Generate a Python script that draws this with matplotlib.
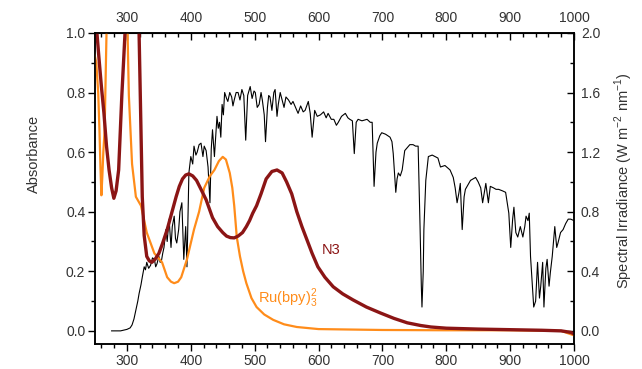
from matplotlib import pyplot as plt
from matplotlib.ticker import MultipleLocator

plt.rcParams['font.family'] = ['Liberation Sans', 'DejaVu Sans']

# solar spectral irradiance (right axis)
sun_nm = [276, 290, 300, 305, 308, 311, 314, 317, 319, 322, 324, 327, 329, 331, 334, 337, 340,
          343, 345, 347, 350, 352, 354, 356, 358, 361, 363, 366, 369, 371, 374, 376, 378, 381,
          383, 386, 389, 392, 394, 397, 400, 403, 405, 408, 410, 413, 416, 419, 421, 424, 427,
          430, 432, 434, 437, 439, 441, 443, 445, 447, 449, 451, 453, 456, 458, 461, 464, 466,
          468, 471, 474, 477, 480, 483, 486, 489, 493, 496, 499, 501, 504, 507, 510, 512, 515,
          517, 520, 522, 524, 527, 530, 532, 535, 537, 540, 543, 546, 549, 553, 557, 560, 564,
          568, 572, 576, 579, 584, 587, 590, 594, 598, 603, 608, 612, 615, 620, 624, 628, 631,
          636, 642, 646, 649, 653, 656, 659, 662, 668, 676, 681, 684, 687, 690, 692, 696, 699,
          705, 712, 715, 717, 721, 723, 725, 728, 731, 735, 739, 743, 748, 752, 756, 759, 761,
          762, 764, 765, 768, 772, 778, 787, 791, 798, 806, 811, 814, 817, 820, 822, 825, 828,
          830, 834, 838, 842, 846, 850, 854, 857, 862, 866, 869, 874, 878, 882, 888, 893, 898,
          901, 904, 906, 909, 912, 916, 920, 923, 925, 928, 930, 932, 935, 937, 940, 943, 946,
          948, 951, 953, 956, 958, 961, 963, 966, 970, 973, 975, 979, 983, 987, 991, 995, 1000]
sun_irr = [0.0, 0.0, 0.01, 0.02, 0.04, 0.08, 0.14, 0.2, 0.25, 0.31, 0.36, 0.43, 0.41, 0.46, 0.42, 0.44, 0.49,
           0.48, 0.43, 0.45, 0.5, 0.46, 0.47, 0.52, 0.56, 0.68, 0.6, 0.75, 0.56, 0.7, 0.77, 0.62, 0.59, 0.68,
           0.8, 0.86, 0.48, 0.7, 0.43, 1.06, 1.17, 1.12, 1.24, 1.18, 1.2, 1.25, 1.26, 1.17, 1.24, 1.21, 1.1,
           0.86, 1.22, 1.35, 1.17, 1.3, 1.44, 1.36, 1.4, 1.3, 1.52, 1.45, 1.6, 1.56, 1.54, 1.6, 1.57, 1.51,
           1.55, 1.6, 1.6, 1.55, 1.62, 1.58, 1.28, 1.58, 1.64, 1.56, 1.61, 1.6, 1.5, 1.52, 1.6, 1.55, 1.45,
           1.27, 1.5, 1.58, 1.57, 1.48, 1.6, 1.62, 1.44, 1.52, 1.6, 1.55, 1.5, 1.57, 1.55, 1.52, 1.54, 1.5,
           1.46, 1.51, 1.47, 1.48, 1.54, 1.46, 1.3, 1.48, 1.44, 1.45, 1.47, 1.43, 1.46, 1.42, 1.42, 1.38, 1.4,
           1.44, 1.46, 1.43, 1.42, 1.41, 1.19, 1.4, 1.42, 1.41, 1.42, 1.4, 1.4, 0.97, 1.2, 1.26, 1.31, 1.33,
           1.32, 1.3, 1.27, 1.19, 0.93, 1.02, 1.06, 1.04, 1.08, 1.21, 1.23, 1.25, 1.25, 1.24, 1.24, 0.7, 0.3,
           0.16, 0.4, 0.68, 1.01, 1.17, 1.18, 1.16, 1.1, 1.11, 1.08, 1.03, 0.96, 0.86, 0.93, 0.99, 0.68, 0.9,
           0.95, 0.98, 1.01, 1.02, 1.03, 1.0, 0.96, 0.86, 0.99, 0.86, 0.97, 0.96, 0.95, 0.95, 0.94, 0.93, 0.79,
           0.56, 0.75, 0.83, 0.66, 0.63, 0.7, 0.63, 0.7, 0.77, 0.74, 0.79, 0.5, 0.3, 0.16, 0.2, 0.46, 0.22,
           0.3, 0.46, 0.16, 0.42, 0.48, 0.3, 0.39, 0.5, 0.7, 0.56, 0.59, 0.66, 0.68, 0.72, 0.75, 0.75, 0.74]

# N3 dye absorbance
n3_nm = [250, 253, 256, 260, 264, 268, 272, 276, 279.5, 283, 287, 292, 297, 305, 315, 319, 322, 324,
         327, 331, 335, 339, 344, 350, 356, 363, 370, 377, 382, 387, 392, 397, 403, 409, 416, 424,
         434, 442, 450, 456, 462, 468, 474, 481, 487, 492, 497, 503, 510, 518, 527, 535, 543, 550,
         558, 566, 574, 582, 590, 599, 610, 623, 638, 654, 675, 697, 718, 739, 760, 776, 800, 850,
         900, 950, 980, 995, 1000]
n3_abs = [1.2, 1.0, 0.92, 0.82, 0.73, 0.62, 0.54, 0.48, 0.445, 0.47, 0.54, 0.79, 1.0, 1.3, 1.3, 1.0, 0.67, 0.45,
          0.32, 0.25, 0.235, 0.23, 0.24, 0.26, 0.295, 0.34, 0.395, 0.45, 0.485, 0.51, 0.523, 0.527, 0.52, 0.505, 0.475, 0.44,
          0.38, 0.35, 0.33, 0.318, 0.313, 0.312, 0.318, 0.33, 0.35, 0.37, 0.395, 0.42, 0.46, 0.51, 0.535, 0.54, 0.53, 0.5,
          0.46, 0.4, 0.35, 0.305, 0.26, 0.215, 0.18, 0.148, 0.124, 0.104, 0.08, 0.06, 0.042, 0.027, 0.018, 0.013, 0.009, 0.006,
          0.004, 0.002, 0.0, -0.005, -0.01]

# Ru(bpy)3 absorbance
ru_nm = [248, 252, 255, 257, 258.5, 260, 261.5, 263, 265, 268, 270, 300, 303, 308, 314, 322, 331,
         343, 355, 363, 369, 374, 380, 385, 394, 405, 413, 421, 430, 437, 444, 450, 455, 461,
         465, 468, 472, 477, 482, 487, 495, 503, 515, 529, 546, 566, 600, 700, 800, 900, 980, 1000]
ru_abs = [0.94, 0.9, 0.8, 0.67, 0.55, 0.455, 0.52, 0.6, 0.67, 1.0, 1.1, 1.1, 0.79, 0.56, 0.45, 0.42, 0.33,
          0.26, 0.23, 0.18, 0.165, 0.16, 0.165, 0.18, 0.24, 0.34, 0.4, 0.48, 0.52, 0.54, 0.57, 0.584, 0.575, 0.53,
          0.48, 0.42, 0.315, 0.25, 0.2, 0.16, 0.11, 0.08, 0.055, 0.037, 0.022, 0.013, 0.006, 0.003, 0.002, 0.002, 0.0, -0.015]

x_ticks = [300, 400, 500, 600, 700, 800, 900, 1000]

N3_COLOR = '#8b1515'
RU_COLOR = '#ff8c1a'
TXT = '#333333'

fig = plt.figure(figsize=(6.42, 3.69), dpi=100)
ax = fig.add_axes([0.148, 0.0678, 0.746, 0.843])
ax2 = ax.twinx()

ax2.plot(sun_nm, sun_irr, c='black', lw=0.8)
ax.plot(ru_nm, ru_abs, c=RU_COLOR, lw=1.6)
ax.plot(n3_nm, n3_abs, c=N3_COLOR, lw=2.4)

ax.set_zorder(ax2.get_zorder() + 1)
ax.patch.set_visible(False)

ax.set_xlim(250, 1000)
ax.set_ylim(-0.044, 1.0)
ax2.set_ylim(-0.088, 2.0)

ax.set_xticks(x_ticks)
ax.xaxis.set_minor_locator(MultipleLocator(20))
ax.yaxis.set_major_locator(MultipleLocator(0.2))
ax.yaxis.set_minor_locator(MultipleLocator(0.1))
ax2.yaxis.set_major_locator(MultipleLocator(0.4))
ax2.yaxis.set_minor_locator(MultipleLocator(0.2))
ax.yaxis.set_major_formatter(lambda v, p: f'{v:.1f}')
ax2.yaxis.set_major_formatter(lambda v, p: f'{v:.1f}')

ax.tick_params(axis='both', which='major', direction='out', length=5, width=1,
               labelsize=10, labelcolor=TXT, pad=2)
ax.tick_params(axis='both', which='minor', direction='out', length=3, width=1)
ax2.tick_params(axis='y', which='major', direction='in', length=5, width=1,
                labelsize=10, labelcolor=TXT, pad=5)
ax2.tick_params(axis='y', which='minor', direction='in', length=3, width=1)

top = ax.secondary_xaxis('top')
top.set_xticks(x_ticks)
top.xaxis.set_minor_locator(MultipleLocator(20))
top.tick_params(which='major', direction='in', length=5, width=1,
                labelsize=10, labelcolor=TXT, pad=6)
top.tick_params(which='minor', direction='in', length=3, width=1)

for a in (ax, ax2):
    for s in a.spines.values():
        s.set_linewidth(1.1)

ax.set_ylabel('Absorbance', fontsize=10.5, color=TXT)
ax.yaxis.set_label_coords(-0.112, 0.61)
ax2.set_ylabel('Spectral Irradiance (W m$^{\\mathregular{-2}}$ nm$^{\\mathregular{-1}}$)',
               fontsize=10.5, color=TXT)
ax2.yaxis.set_label_coords(1.08, 0.524)

ax.text(620, 0.27, 'N3', color=N3_COLOR, fontsize=10.5, ha='center', va='center')
ax.text(505, 0.11, 'Ru(bpy)$_{\\mathregular{3}}^{\\mathregular{2}}$', color=RU_COLOR,
        fontsize=10.5, ha='left', va='center')

fig.savefig('out.png', dpi=100)
